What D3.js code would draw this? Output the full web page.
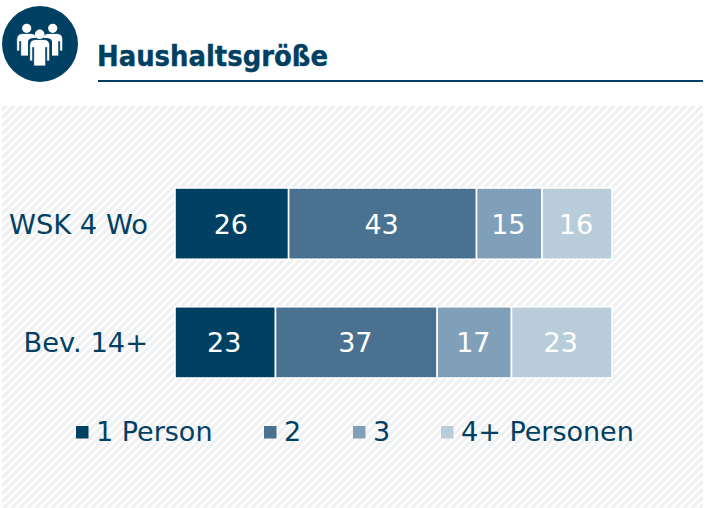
<!DOCTYPE html>
<html><head><meta charset="utf-8">
<script src="https://cdn.jsdelivr.net/npm/d3@7"></script>
<style>html,body{margin:0;padding:0;background:#fff}svg{display:block}text{font-family:"DejaVu Sans",sans-serif}</style>
</head><body><svg id="c" width="710" height="508"></svg>
<script>
const title = "Haushaltsgröße";
const categories = ["WSK 4 Wo", "Bev. 14+"];
const seriesNames = ["1 Person", "2", "3", "4+ Personen"];
const series1 = [26, 23];
const series2 = [43, 37];
const series3 = [15, 17];
const series4 = [16, 23];
const colors = ["#004063", "#4b7190", "#80a0b9", "#b8cdd9"];
const ink = "#004063";

const svg = d3.select("#c");
const defs = svg.append("defs");
const p = defs.append("pattern").attr("id","hatch").attr("patternUnits","userSpaceOnUse")
  .attr("width",8).attr("height",8);
p.append("rect").attr("width",8).attr("height",8).attr("fill","#fdfdfd");
p.append("path").attr("d","M-2,2L2,-2M0,8L8,0M6,10L10,6").attr("stroke","#eeeff0").attr("stroke-width",2.8);
svg.append("rect").attr("x",2).attr("y",106).attr("width",701).attr("height",402).attr("fill","url(#hatch)");

// header icon
const ic = svg.append("g");
ic.append("circle").attr("cx",40).attr("cy",44).attr("r",38).attr("fill",ink);
function person(cx, headY, headR, top, armEnd, bottom, w){
  ic.append("circle").attr("cx",cx).attr("cy",headY).attr("r",headR).attr("fill","#fff");
  ic.append("path")
    .attr("d",`M${cx-w},${armEnd}V${top+6}Q${cx-w},${top} ${cx-w+6},${top}H${cx+w-6}Q${cx+w},${top} ${cx+w},${top+6}V${armEnd}H${cx+w-3}V${top+8}H${cx+w-4}V${bottom}H${cx-w+4}V${top+8}H${cx-w+3}V${armEnd}Z`)
    .attr("fill","#fff").attr("stroke",ink).attr("stroke-width",0.8);
}
person(26.7,28.3,4.6,33.5,51,56,10);
person(52.7,28.3,4.6,33.5,51,56,10);
ic.append("path").attr("d","M28,42Q28,38 34,38H46Q52,38 52,42V68H28Z").attr("fill",ink);
person(39.7,34.3,4.8,39.5,61,66,10);

svg.append("text").text(title).attr("x",97).attr("y",66).attr("fill",ink)
  .attr("stroke",ink).attr("stroke-width",0.4)
  .attr("font-size",27.5).attr("font-weight",700).attr("textLength",231).attr("lengthAdjust","spacingAndGlyphs");
svg.append("rect").attr("x",98).attr("y",80).attr("width",605).attr("height",2).attr("fill",ink);

// chart
const x = d3.scaleLinear().domain([0,100]).range([175,612]);
const y = d3.scaleBand().domain(categories).range([188,378]).paddingInner(0.4).paddingOuter(0);
const rows = categories.map((c,i)=>({c, v:[series1[i],series2[i],series3[i],series4[i]]}));
const stackKeys = d3.range(4);
const stacked = d3.stack().keys(stackKeys).value((d,k)=>d.v[k])(rows);
const g = svg.selectAll("g.s").data(stacked).join("g").attr("class","s");
g.selectAll("rect").data((s)=>s.map(d=>({d,k:s.key}))).join("rect")
  .attr("x",o=>x(o.d[0])).attr("y",o=>y(o.d.data.c))
  .attr("width",o=>x(o.d[1])-x(o.d[0])).attr("height",y.bandwidth())
  .attr("fill",o=>colors[o.k]).attr("stroke","#fff").attr("stroke-width",1.6);
g.selectAll("text").data((s)=>s.map(d=>({d,k:s.key}))).join("text")
  .text(o=>o.d[1]-o.d[0])
  .attr("x",o=>x((o.d[0]+o.d[1])/2)-1).attr("y",o=>y(o.d.data.c)+y.bandwidth()/2+10)
  .attr("text-anchor","middle").attr("fill","#fff").attr("font-size",27);

svg.selectAll("text.cat").data(categories).join("text").attr("class","cat").text(d=>d)
  .attr("x",148).attr("y",d=>y(d)+y.bandwidth()/2+10).attr("text-anchor","end")
  .attr("fill",ink).attr("font-size",27.3);

// legend
const legendX = d3.scaleOrdinal().domain(seriesNames).range([76,264,353,441]);
const lg = svg.selectAll("g.l").data(seriesNames).join("g").attr("class","l");
lg.append("rect").attr("x",d=>legendX(d)).attr("y",426).attr("width",12.5).attr("height",12.5)
  .attr("fill",(d,i)=>colors[i]);
lg.append("text").text(d=>d).attr("x",d=>legendX(d)+20).attr("y",441)
  .attr("fill",ink).attr("font-size",27);
</script></body></html>
